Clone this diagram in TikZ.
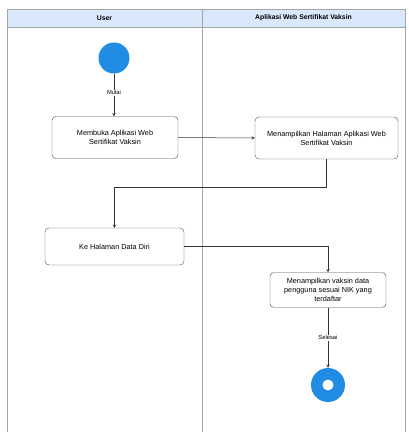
\documentclass[tikz,border=0pt]{standalone}
\usepackage{fontspec}
\setmainfont{Liberation Sans}
\usepackage{tikz}
\usetikzlibrary{calc}
\usetikzlibrary{positioning}
\usetikzlibrary{arrows}

\definecolor{laneblue}{RGB}{218,232,252}
\definecolor{dotblue}{RGB}{33,140,228}
\definecolor{lanegray}{RGB}{165,165,165}

\tikzset{
	act/.style={rectangle, rounded corners=4pt, draw=black!70, fill=white, align=center, font=\fontsize{7.3}{9}\selectfont, inner sep=2pt},
	flow/.style={->, >=stealth, draw=black!80, line width=0.5pt},
	guard/.style={fill=white, font=\fontsize{5.8}{7}\selectfont, inner sep=1pt}
}

\begin{document}
\begin{tikzpicture}[x=1pt, y=-1pt]
				\useasboundingbox (0,0) rectangle (409,432);
				% swimlanes
				\fill[laneblue] (7,9) rectangle (405,27);
				\draw[lanegray, line width=0.6pt] (7,432) -- (7,9) -- (405,9) -- (405,432);
				\draw[lanegray, line width=0.6pt] (7,27) -- (405,27);
				\draw[lanegray, line width=0.6pt] (202,9) -- (202,432);
				\node[font=\fontsize{6.8}{8}\selectfont\bfseries] (L1) at (104.5,18) {User};
				\node[font=\fontsize{6.8}{8}\selectfont\bfseries] (L2) at (303.5,18) {Aplikasi Web Sertifikat Vaksin};
				
				\node[circle, fill=dotblue, minimum size=31pt, inner sep=0pt] (A) at (114,58) {};
				\node[act, minimum width=126pt, minimum height=42pt] (B) at (115,137.5) {Membuka Aplikasi Web\\Sertifikat Vaksin};
				\node[act, minimum width=143pt, minimum height=42pt] (D) at (326.5,138) {Menampilkan Halaman Aplikasi Web\\Sertifikat Vaksin};
				\node[act, minimum width=139pt, minimum height=37pt] (C) at (114.5,246.5) {Ke Halaman Data Diri};
				\node[act, minimum width=116pt, minimum height=35pt] (E) at (328,290) {Menampilkan vaksin data\\pengguna sesuai NIK yang\\terdaftar};
				\node[circle, fill=dotblue, minimum size=34pt, inner sep=0pt] (F) at (328,385) {};
				\node[circle, fill=white, minimum size=11pt, inner sep=0pt] (G) at (328,385) {};
				\coordinate (k1) at (0,187);
				
				\draw[flow] (A.south) -- (A.south |- B.north) node[pos=0.45, guard] () {Mulai};
				\draw[flow] (B.east) -- (D.west);
				\draw[flow] (D.south) -- (D.south |- k1) -| (C.north);
				\draw[flow] (C.east) -| (E.north);
				\draw[flow] (E) -- (F) node[pos=0.5, guard] () {Selesai};
			\end{tikzpicture}
\end{document}
